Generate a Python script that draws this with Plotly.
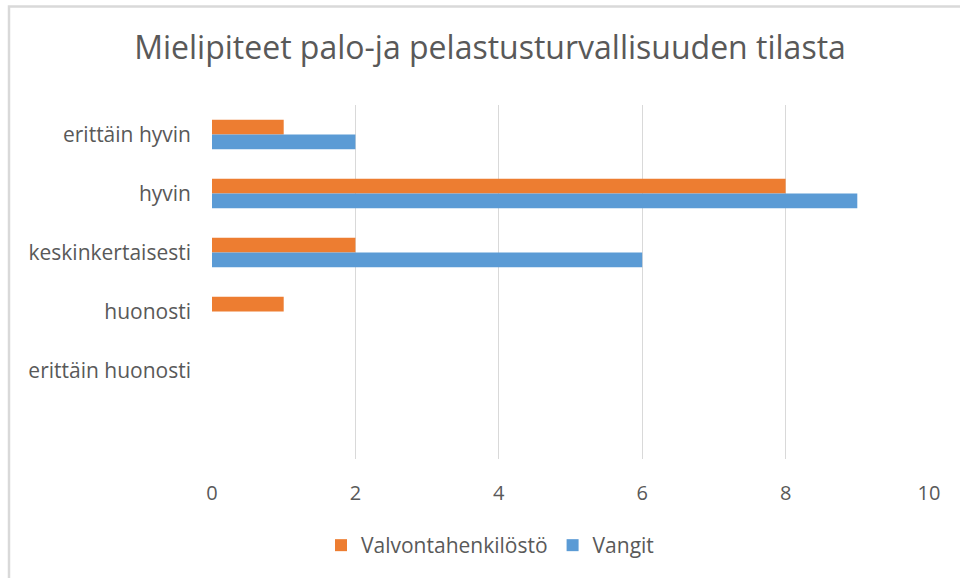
import plotly.graph_objects as go

categories = ["erittäin hyvin", "hyvin", "keskinkertaisesti", "huonosti", "erittäin huonosti"]
valvonta = [1, 8, 2, 1, 0]
vangit = [2, 9, 6, 0, 0]
x_ticks = [0, 2, 4, 6, 8, 10]

W, H = 960, 578
L, R, T, B = 212, 31, 105, 117
pw, ph = W - L - R, H - T - B

def px_x(p):
    return (p - L) / pw

def px_y(p):
    return (H - B - p) / ph

GREY = "#595959"

fig = go.Figure()
fig.add_trace(go.Bar(y=categories, x=valvonta, orientation="h", name="Valvontahenkilöstö",
                     marker=dict(color="#ED7D31", line=dict(width=0))))
fig.add_trace(go.Bar(y=categories, x=vangit, orientation="h", name="Vangit",
                     marker=dict(color="#5B9BD5", line=dict(width=0))))

fig.update_layout(
    width=W, height=H,
    margin=dict(l=L, r=R, t=T, b=B),
    paper_bgcolor="white", plot_bgcolor="white",
    barmode="group", bargap=0.5, bargroupgap=0,
    title=dict(text="Mielipiteet palo-ja pelastusturvallisuuden tilasta",
               x=490 / W, xanchor="center", y=1 - 48 / H, yanchor="middle",
               font=dict(family="Open Sans", size=32, color=GREY)),
    font=dict(family="Open Sans", color=GREY),
    xaxis=dict(range=[0, 10], tickvals=x_ticks, showgrid=True, gridcolor="#d9d9d9",
               gridwidth=1, zeroline=False, showline=False, ticks="",
               tickfont=dict(size=20, color=GREY), ticklabelstandoff=20),
    yaxis=dict(type="category", categoryorder="array", categoryarray=categories,
               range=[5.5, -0.5], showgrid=False, zeroline=False, showline=False,
               ticks="", tickfont=dict(size=21, color=GREY), ticklabelstandoff=20),
    legend=dict(orientation="h", x=px_x(490), xanchor="center",
                y=px_y(548), yanchor="middle", font=dict(size=21, color=GREY),
                itemwidth=30, traceorder="normal"),
    showlegend=True,
)

fig.add_shape(type="rect", xref="paper", yref="paper",
              x0=px_x(9), x1=px_x(1000), y0=px_y(600), y1=px_y(6),
              line=dict(color="#d9d9d9", width=2.5), fillcolor="rgba(0,0,0,0)", layer="below")

fig.write_html("out.html", config={"displayModeBar": False},
               post_script="document.body.style.margin='0';")
